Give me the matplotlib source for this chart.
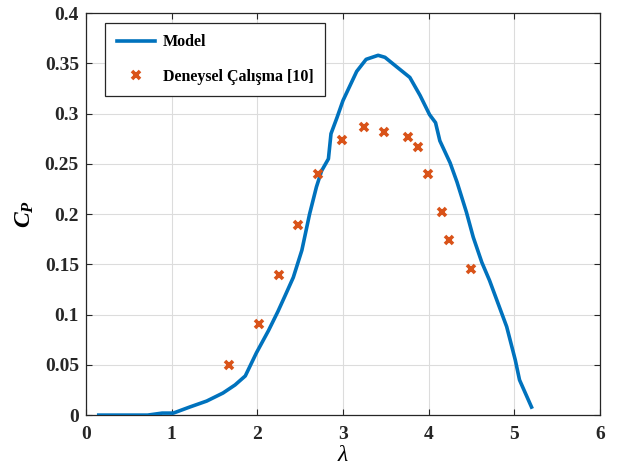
import matplotlib
matplotlib.use("Agg")
import matplotlib.pyplot as plt

plt.rcParams['font.family'] = ['Liberation Serif', 'DejaVu Serif']
plt.rcParams['mathtext.fontset'] = 'custom'
plt.rcParams['mathtext.it'] = 'Liberation Serif:bold:italic'
plt.rcParams['mathtext.rm'] = 'Liberation Serif:bold'
plt.rcParams['mathtext.bf'] = 'Liberation Serif:bold'

# Model curve
model_tsr = [0.15, 0.72, 0.89, 1.02, 1.21, 1.41, 1.60, 1.74, 1.86, 1.99, 2.13, 2.24,
             2.32, 2.42, 2.52, 2.61, 2.69, 2.75, 2.83, 2.86, 2.93, 3.00, 3.16, 3.27,
             3.41, 3.49, 3.62, 3.78, 3.90, 4.01, 4.08, 4.13, 4.25, 4.33, 4.44, 4.52,
             4.62, 4.71, 4.91, 5.01, 5.06, 5.20]
model_cp = [0.0, 0.0, 0.002, 0.002, 0.008, 0.014, 0.022, 0.030, 0.039, 0.062, 0.084, 0.103,
            0.118, 0.137, 0.164, 0.200, 0.227, 0.243, 0.255, 0.280, 0.296, 0.313, 0.342, 0.354,
            0.358, 0.356, 0.347, 0.336, 0.318, 0.299, 0.291, 0.273, 0.251, 0.232, 0.202, 0.177,
            0.152, 0.134, 0.088, 0.055, 0.035, 0.008]

# Experimental data
exp_tsr = [1.67, 2.02, 2.25, 2.47, 2.71, 2.99, 3.24, 3.48, 3.76, 3.88, 3.99, 4.16, 4.24, 4.49]
exp_cp = [0.050, 0.091, 0.139, 0.189, 0.240, 0.274, 0.287, 0.282, 0.277, 0.267, 0.240,
          0.2025, 0.174, 0.145]

xticks = [0, 1, 2, 3, 4, 5, 6]
yticks = [0, 0.05, 0.1, 0.15, 0.2, 0.25, 0.3, 0.35, 0.4]
ytick_labels = ['0', '0.05', '0.1', '0.15', '0.2', '0.25', '0.3', '0.35', '0.4']

fig = plt.figure(figsize=(6.18, 4.68), dpi=100)
ax = fig.add_axes([0.139, 0.113, 0.832, 0.859])

ax.plot(model_tsr, model_cp, color='#0072BD', lw=2.6, label='Model', zorder=3)
ax.plot(exp_tsr, exp_cp, linestyle='none', marker='x', color='#D95319',
        markersize=5.5, markeredgewidth=2.6, label='Deneysel Çalışma [10]', zorder=4)

ax.set_xlim(0, 6)
ax.set_ylim(0, 0.4)
ax.set_xticks(xticks)
ax.set_yticks(yticks)
ax.set_yticklabels(ytick_labels)
ax.grid(True, color='#dcdcdc', lw=0.8)
ax.set_axisbelow(True)
ax.tick_params(direction='in', top=True, right=True, length=4, width=0.8,
               labelsize=14, colors='#262626')
ax.tick_params(axis='x', pad=8)
ax.tick_params(axis='y', pad=5)
for lab in ax.get_xticklabels() + ax.get_yticklabels():
    lab.set_fontweight('bold')
for sp in ax.spines.values():
    sp.set_color('#262626')
    sp.set_linewidth(0.9)

ax.set_xlabel('λ', fontsize=17, fontstyle='italic', labelpad=1)
ax.set_ylabel('$C_P$', fontsize=17, labelpad=6)

leg = ax.legend(loc='upper left', bbox_to_anchor=(0.038, 0.975), borderaxespad=0,
                fancybox=False, edgecolor='#262626', framealpha=1,
                prop={'weight': 'bold', 'size': 11.5},
                handlelength=2.4, borderpad=0.7,
                labelspacing=1.15, handletextpad=0.5)
leg.get_frame().set_linewidth(0.9)

fig.savefig('out.png', dpi=100, facecolor='white')
